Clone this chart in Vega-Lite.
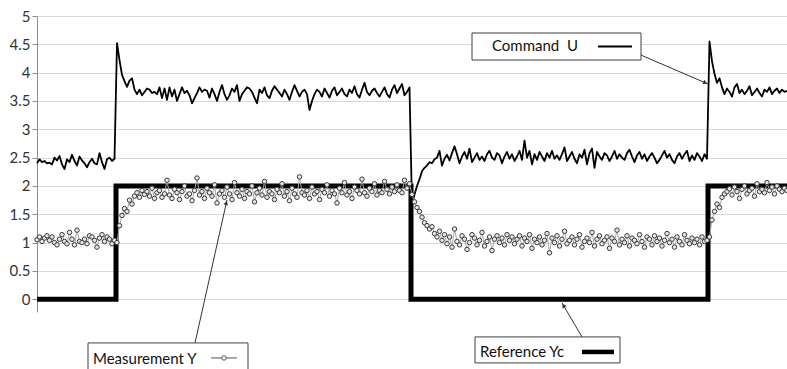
{
"$schema":"https://vega.github.io/schema/vega-lite/v6.json",
"width":750,"height":296,
"autosize":{"type":"none"},
"padding":{"left":37,"top":16,"right":0,"bottom":57},
"background":"white",
"config":{"view":{"stroke":null},"font":"Lato",
 "axisY":{"tickCount":11,"format":"~g","title":null,"grid":true,"gridColor":"#d9d9d9","gridWidth":1,"domainColor":"#8c8c8c","tickColor":"#8c8c8c","tickSize":5,"labelOverlap":false,"labelFont":"Lato","labelFontSize":15,"labelColor":"#333333","labelPadding":2}},
"datasets":{
"s":[
{"t":0,"u":2.40,"y":1.05},{"t":1,"u":2.47,"y":1.10},{"t":2,"u":2.42,"y":1.02},{"t":3,"u":2.44,"y":1.08},{"t":4,"u":2.40,"y":1.12},{"t":5,"u":2.41,"y":1.04},{"t":6,"u":2.38,"y":1.10},{"t":7,"u":2.50,"y":1.00},{"t":8,"u":2.45,"y":0.96},{"t":9,"u":2.53,"y":1.06},
{"t":10,"u":2.38,"y":1.14},{"t":11,"u":2.30,"y":1.02},{"t":12,"u":2.47,"y":0.98},{"t":13,"u":2.42,"y":1.18},{"t":14,"u":2.55,"y":1.06},{"t":15,"u":2.44,"y":0.96},{"t":16,"u":2.36,"y":1.22},{"t":17,"u":2.52,"y":1.02},{"t":18,"u":2.45,"y":1.00},{"t":19,"u":2.40,"y":1.06},
{"t":20,"u":2.33,"y":0.98},{"t":21,"u":2.42,"y":1.12},{"t":22,"u":2.48,"y":1.10},{"t":23,"u":2.40,"y":1.04},{"t":24,"u":2.38,"y":0.92},{"t":25,"u":2.58,"y":1.08},{"t":26,"u":2.42,"y":1.14},{"t":27,"u":2.30,"y":1.02},{"t":28,"u":2.47,"y":1.10},{"t":29,"u":2.50,"y":1.06},
{"t":30,"u":2.44,"y":0.98},{"t":31,"u":2.48,"y":1.04},{"t":32,"u":4.52,"y":1.00},{"t":33,"u":4.22,"y":1.30},{"t":34,"u":3.96,"y":1.48},{"t":35,"u":3.85,"y":1.60},{"t":36,"u":3.75,"y":1.55},{"t":37,"u":3.86,"y":1.75},{"t":38,"u":3.90,"y":1.68},{"t":39,"u":3.70,"y":1.82},
{"t":40,"u":3.62,"y":1.88},{"t":41,"u":3.70,"y":1.80},{"t":42,"u":3.60,"y":1.92},{"t":43,"u":3.66,"y":1.85},{"t":44,"u":3.72,"y":1.90},{"t":45,"u":3.70,"y":1.82},{"t":46,"u":3.64,"y":1.96},{"t":47,"u":3.66,"y":1.78},{"t":48,"u":3.62,"y":1.88},{"t":49,"u":3.74,"y":1.92},
{"t":50,"u":3.55,"y":1.80},{"t":51,"u":3.72,"y":1.86},{"t":52,"u":3.52,"y":2.10},{"t":53,"u":3.74,"y":1.84},{"t":54,"u":3.58,"y":1.78},{"t":55,"u":3.70,"y":1.94},{"t":56,"u":3.50,"y":1.88},{"t":57,"u":3.62,"y":1.76},{"t":58,"u":3.74,"y":1.90},{"t":59,"u":3.64,"y":2.00},
{"t":60,"u":3.68,"y":1.82},{"t":61,"u":3.60,"y":1.86},{"t":62,"u":3.46,"y":1.74},{"t":63,"u":3.55,"y":1.92},{"t":64,"u":3.64,"y":2.14},{"t":65,"u":3.74,"y":1.84},{"t":66,"u":3.66,"y":1.90},{"t":67,"u":3.70,"y":1.78},{"t":68,"u":3.68,"y":1.96},{"t":69,"u":3.56,"y":1.88},
{"t":70,"u":3.72,"y":1.82},{"t":71,"u":3.62,"y":2.02},{"t":72,"u":3.50,"y":1.70},{"t":73,"u":3.66,"y":1.86},{"t":74,"u":3.78,"y":1.92},{"t":75,"u":3.62,"y":1.80},{"t":76,"u":3.52,"y":1.98},{"t":77,"u":3.60,"y":1.86},{"t":78,"u":3.72,"y":1.76},{"t":79,"u":3.66,"y":2.06},
{"t":80,"u":3.78,"y":1.88},{"t":81,"u":3.50,"y":1.82},{"t":82,"u":3.62,"y":1.94},{"t":83,"u":3.68,"y":1.78},{"t":84,"u":3.74,"y":1.90},{"t":85,"u":3.72,"y":1.86},{"t":86,"u":3.66,"y":2.00},{"t":87,"u":3.56,"y":1.72},{"t":88,"u":3.46,"y":1.88},{"t":89,"u":3.70,"y":1.96},
{"t":90,"u":3.64,"y":1.84},{"t":91,"u":3.74,"y":2.08},{"t":92,"u":3.60,"y":1.80},{"t":93,"u":3.55,"y":1.90},{"t":94,"u":3.68,"y":1.86},{"t":95,"u":3.76,"y":1.76},{"t":96,"u":3.70,"y":1.94},{"t":97,"u":3.64,"y":1.88},{"t":98,"u":3.58,"y":2.04},{"t":99,"u":3.70,"y":1.82},
{"t":100,"u":3.62,"y":1.90},{"t":101,"u":3.52,"y":1.74},{"t":102,"u":3.66,"y":1.96},{"t":103,"u":3.78,"y":1.86},{"t":104,"u":3.68,"y":1.80},{"t":105,"u":3.58,"y":2.16},{"t":106,"u":3.66,"y":1.88},{"t":107,"u":3.70,"y":1.84},{"t":108,"u":3.62,"y":1.92},{"t":109,"u":3.34,"y":1.78},
{"t":110,"u":3.50,"y":1.98},{"t":111,"u":3.62,"y":1.86},{"t":112,"u":3.70,"y":1.90},{"t":113,"u":3.66,"y":1.76},{"t":114,"u":3.58,"y":1.94},{"t":115,"u":3.72,"y":1.88},{"t":116,"u":3.64,"y":2.02},{"t":117,"u":3.56,"y":1.82},{"t":118,"u":3.68,"y":1.92},{"t":119,"u":3.74,"y":1.86},
{"t":120,"u":3.60,"y":1.70},{"t":121,"u":3.66,"y":1.96},{"t":122,"u":3.72,"y":1.88},{"t":123,"u":3.62,"y":2.06},{"t":124,"u":3.58,"y":1.84},{"t":125,"u":3.70,"y":1.90},{"t":126,"u":3.64,"y":1.78},{"t":127,"u":3.76,"y":1.98},{"t":128,"u":3.62,"y":1.92},{"t":129,"u":3.56,"y":1.86},
{"t":130,"u":3.70,"y":2.12},{"t":131,"u":3.82,"y":1.88},{"t":132,"u":3.66,"y":1.82},{"t":133,"u":3.60,"y":1.96},{"t":134,"u":3.68,"y":1.90},{"t":135,"u":3.72,"y":2.04},{"t":136,"u":3.64,"y":1.84},{"t":137,"u":3.58,"y":1.92},{"t":138,"u":3.66,"y":1.88},{"t":139,"u":3.74,"y":2.08},
{"t":140,"u":3.62,"y":1.94},{"t":141,"u":3.56,"y":1.86},{"t":142,"u":3.70,"y":1.98},{"t":143,"u":3.78,"y":1.90},{"t":144,"u":3.64,"y":2.02},{"t":145,"u":3.72,"y":1.92},{"t":146,"u":3.80,"y":1.88},{"t":147,"u":3.60,"y":2.10},{"t":148,"u":3.66,"y":1.96},{"t":149,"u":3.74,"y":2.04},
{"t":150,"u":1.65,"y":1.85},{"t":151,"u":1.85,"y":1.72},{"t":152,"u":2.00,"y":1.62},{"t":153,"u":2.12,"y":1.55},{"t":154,"u":2.26,"y":1.45},{"t":155,"u":2.32,"y":1.35},{"t":156,"u":2.36,"y":1.30},{"t":157,"u":2.42,"y":1.24},{"t":158,"u":2.40,"y":1.28},{"t":159,"u":2.47,"y":1.16},
{"t":160,"u":2.50,"y":1.10},{"t":161,"u":2.62,"y":1.20},{"t":162,"u":2.36,"y":1.04},{"t":163,"u":2.48,"y":1.14},{"t":164,"u":2.55,"y":0.98},{"t":165,"u":2.45,"y":1.10},{"t":166,"u":2.58,"y":0.92},{"t":167,"u":2.70,"y":1.24},{"t":168,"u":2.56,"y":1.02},{"t":169,"u":2.40,"y":0.96},
{"t":170,"u":2.52,"y":1.12},{"t":171,"u":2.60,"y":1.06},{"t":172,"u":2.48,"y":0.88},{"t":173,"u":2.66,"y":1.00},{"t":174,"u":2.42,"y":1.14},{"t":175,"u":2.50,"y":1.08},{"t":176,"u":2.58,"y":0.96},{"t":177,"u":2.46,"y":1.04},{"t":178,"u":2.52,"y":1.18},{"t":179,"u":2.44,"y":0.94},
{"t":180,"u":2.56,"y":1.02},{"t":181,"u":2.62,"y":1.10},{"t":182,"u":2.50,"y":0.86},{"t":183,"u":2.46,"y":1.06},{"t":184,"u":2.58,"y":1.12},{"t":185,"u":2.54,"y":1.00},{"t":186,"u":2.40,"y":1.08},{"t":187,"u":2.52,"y":0.96},{"t":188,"u":2.60,"y":1.14},{"t":189,"u":2.48,"y":1.04},
{"t":190,"u":2.56,"y":1.10},{"t":191,"u":2.44,"y":0.98},{"t":192,"u":2.52,"y":1.06},{"t":193,"u":2.62,"y":1.12},{"t":194,"u":2.46,"y":0.94},{"t":195,"u":2.80,"y":1.08},{"t":196,"u":2.50,"y":1.02},{"t":197,"u":2.62,"y":1.14},{"t":198,"u":2.38,"y":0.90},{"t":199,"u":2.56,"y":1.06},
{"t":200,"u":2.46,"y":1.00},{"t":201,"u":2.60,"y":1.10},{"t":202,"u":2.52,"y":0.96},{"t":203,"u":2.44,"y":1.04},{"t":204,"u":2.58,"y":1.16},{"t":205,"u":2.50,"y":0.82},{"t":206,"u":2.62,"y":1.08},{"t":207,"u":2.48,"y":1.00},{"t":208,"u":2.54,"y":1.12},{"t":209,"u":2.46,"y":0.94},
{"t":210,"u":2.56,"y":1.06},{"t":211,"u":2.68,"y":1.20},{"t":212,"u":2.44,"y":0.98},{"t":213,"u":2.52,"y":1.04},{"t":214,"u":2.60,"y":1.10},{"t":215,"u":2.48,"y":0.96},{"t":216,"u":2.40,"y":1.06},{"t":217,"u":2.56,"y":1.14},{"t":218,"u":2.50,"y":0.92},{"t":219,"u":2.64,"y":1.02},
{"t":220,"u":2.38,"y":1.08},{"t":221,"u":2.58,"y":1.00},{"t":222,"u":2.66,"y":1.18},{"t":223,"u":2.32,"y":0.94},{"t":224,"u":2.60,"y":1.06},{"t":225,"u":2.52,"y":1.12},{"t":226,"u":2.46,"y":0.98},{"t":227,"u":2.58,"y":1.04},{"t":228,"u":2.54,"y":1.10},{"t":229,"u":2.44,"y":0.90},
{"t":230,"u":2.52,"y":1.08},{"t":231,"u":2.62,"y":1.02},{"t":232,"u":2.48,"y":1.22},{"t":233,"u":2.56,"y":0.96},{"t":234,"u":2.50,"y":1.06},{"t":235,"u":2.46,"y":1.00},{"t":236,"u":2.58,"y":1.12},{"t":237,"u":2.64,"y":0.94},{"t":238,"u":2.52,"y":1.08},{"t":239,"u":2.42,"y":1.04},
{"t":240,"u":2.54,"y":0.98},{"t":241,"u":2.60,"y":1.14},{"t":242,"u":2.48,"y":1.02},{"t":243,"u":2.56,"y":0.92},{"t":244,"u":2.44,"y":1.10},{"t":245,"u":2.52,"y":1.06},{"t":246,"u":2.58,"y":0.96},{"t":247,"u":2.50,"y":1.12},{"t":248,"u":2.40,"y":1.02},{"t":249,"u":2.46,"y":1.08},
{"t":250,"u":2.54,"y":0.94},{"t":251,"u":2.62,"y":1.04},{"t":252,"u":2.50,"y":1.16},{"t":253,"u":2.56,"y":1.00},{"t":254,"u":2.46,"y":1.06},{"t":255,"u":2.40,"y":0.92},{"t":256,"u":2.52,"y":1.10},{"t":257,"u":2.58,"y":1.02},{"t":258,"u":2.48,"y":0.96},{"t":259,"u":2.56,"y":1.14},
{"t":260,"u":2.62,"y":1.04},{"t":261,"u":2.44,"y":0.98},{"t":262,"u":2.54,"y":1.08},{"t":263,"u":2.46,"y":1.00},{"t":264,"u":2.58,"y":1.06},{"t":265,"u":2.52,"y":0.96},{"t":266,"u":2.44,"y":1.10},{"t":267,"u":2.56,"y":1.02},{"t":268,"u":2.48,"y":1.04},{"t":269,"u":4.55,"y":1.10},
{"t":270,"u":4.20,"y":1.40},{"t":271,"u":3.98,"y":1.55},{"t":272,"u":3.82,"y":1.68},{"t":273,"u":3.90,"y":1.62},{"t":274,"u":3.74,"y":1.80},{"t":275,"u":3.62,"y":1.86},{"t":276,"u":3.72,"y":1.90},{"t":277,"u":3.66,"y":1.95},{"t":278,"u":3.58,"y":1.84},{"t":279,"u":3.74,"y":1.98},
{"t":280,"u":3.80,"y":1.90},{"t":281,"u":3.64,"y":1.78},{"t":282,"u":3.70,"y":1.94},{"t":283,"u":3.62,"y":2.00},{"t":284,"u":3.68,"y":1.86},{"t":285,"u":3.76,"y":1.92},{"t":286,"u":3.60,"y":1.96},{"t":287,"u":3.66,"y":1.82},{"t":288,"u":3.72,"y":2.04},{"t":289,"u":3.64,"y":1.90},
{"t":290,"u":3.58,"y":1.94},{"t":291,"u":3.70,"y":1.88},{"t":292,"u":3.66,"y":2.06},{"t":293,"u":3.74,"y":1.92},{"t":294,"u":3.62,"y":1.98},{"t":295,"u":3.68,"y":1.86},{"t":296,"u":3.72,"y":2.00},{"t":297,"u":3.64,"y":1.94},{"t":298,"u":3.70,"y":1.90},{"t":299,"u":3.66,"y":1.96},
{"t":300,"u":3.68,"y":1.92}
],
"ref":[{"t":0,"v":0},{"t":31.6,"v":2},{"t":149.6,"v":0},{"t":268.4,"v":2},{"t":300,"v":2}],
"boxes":[{"t":174,"t2":241.6,"v":4.223,"v2":4.70},{"t":20.4,"t2":84.4,"v":-1.265,"v2":-0.771},{"t":175.2,"t2":233.2,"v":-1.124,"v2":-0.665}],
"labels":[{"t":182,"v":4.462,"txt":"Command\u00a0\u00a0U"},{"t":22.4,"v":-1.054,"txt":"Measurement Y"},{"t":177.2,"v":-0.93,"txt":"Reference Yc"}],
"arrows":[{"t":241.6,"v":4.31,"t2":268.4,"v2":3.80},{"t":63.2,"v":-0.771,"t2":76,"v2":1.753},{"t":218,"v":-0.665,"t2":210,"v2":-0.065}],
"heads":[{"t":267.3,"v":3.821,"a":113.4},{"t":75.7,"v":1.701,"a":12.6},{"t":210.6,"v":-0.111,"a":329.5}],
"keyU":[{"t":224.4,"t2":238,"v":4.462}],
"keyY":[{"t":69.6,"t2":80,"v":-1.036,"m":74.8}],
"keyR":[{"t":218,"t2":230.8,"v":-0.93}]
},
"encoding":{
 "x":{"type":"quantitative","scale":{"domain":[0,300],"nice":false,"zero":false},"axis":null},
 "y":{"type":"quantitative","scale":{"domain":[-0.225,5],"nice":false,"zero":false}}
},
"layer":[
{"data":{"name":"ref"},"mark":{"type":"line","interpolate":"step-after","color":"#000000","strokeWidth":5,"strokeJoin":"miter","strokeCap":"butt"},
 "encoding":{"x":{"field":"t","type":"quantitative"},"y":{"field":"v","type":"quantitative"}}},
{"data":{"name":"s"},"mark":{"type":"line","color":"#000000","strokeWidth":1.8,"strokeJoin":"round"},
 "encoding":{"x":{"field":"t","type":"quantitative"},"y":{"field":"u","type":"quantitative"}}},
{"data":{"name":"s"},"mark":{"type":"line","color":"#a6a6a6","strokeWidth":1},
 "encoding":{"x":{"field":"t","type":"quantitative"},"y":{"field":"y","type":"quantitative"}}},
{"data":{"name":"s"},"mark":{"type":"point","shape":"circle","size":20,"filled":false,"fill":"#e6e6e6","fillOpacity":1,"stroke":"#3a3a3a","strokeWidth":1,"opacity":1},
 "encoding":{"x":{"field":"t","type":"quantitative"},"y":{"field":"y","type":"quantitative"}}},
{"data":{"name":"arrows"},"mark":{"type":"rule","color":"#333333","strokeWidth":1},
 "encoding":{"x":{"field":"t","type":"quantitative"},"x2":{"field":"t2"},"y":{"field":"v","type":"quantitative"},"y2":{"field":"v2"}}},
{"data":{"name":"heads"},"mark":{"type":"point","shape":"triangle-up","size":22,"filled":true,"color":"#333333","opacity":1},
 "encoding":{"x":{"field":"t","type":"quantitative"},"y":{"field":"v","type":"quantitative"},"angle":{"field":"a","type":"quantitative","scale":null}}},
{"data":{"name":"boxes"},"mark":{"type":"rect","fill":"#ffffff","stroke":"#404040","strokeWidth":1},
 "encoding":{"x":{"field":"t","type":"quantitative"},"x2":{"field":"t2"},"y":{"field":"v","type":"quantitative"},"y2":{"field":"v2"}}},
{"data":{"name":"labels"},"mark":{"type":"text","align":"left","baseline":"middle","font":"Lato","fontSize":15,"color":"#111111"},
 "encoding":{"x":{"field":"t","type":"quantitative"},"y":{"field":"v","type":"quantitative"},"text":{"field":"txt"}}},
{"data":{"name":"keyU"},"mark":{"type":"rule","color":"#000000","strokeWidth":1.8},
 "encoding":{"x":{"field":"t","type":"quantitative"},"x2":{"field":"t2"},"y":{"field":"v","type":"quantitative"}}},
{"data":{"name":"keyY"},"mark":{"type":"rule","color":"#505050","strokeWidth":1},
 "encoding":{"x":{"field":"t","type":"quantitative"},"x2":{"field":"t2"},"y":{"field":"v","type":"quantitative"}}},
{"data":{"name":"keyY"},"mark":{"type":"point","shape":"circle","size":20,"filled":false,"fill":"#ffffff","fillOpacity":1,"stroke":"#505050","strokeWidth":1,"opacity":1},
 "encoding":{"x":{"field":"m","type":"quantitative"},"y":{"field":"v","type":"quantitative"}}},
{"data":{"name":"keyR"},"mark":{"type":"rule","color":"#000000","strokeWidth":4.5},
 "encoding":{"x":{"field":"t","type":"quantitative"},"x2":{"field":"t2"},"y":{"field":"v","type":"quantitative"}}}
]
}
